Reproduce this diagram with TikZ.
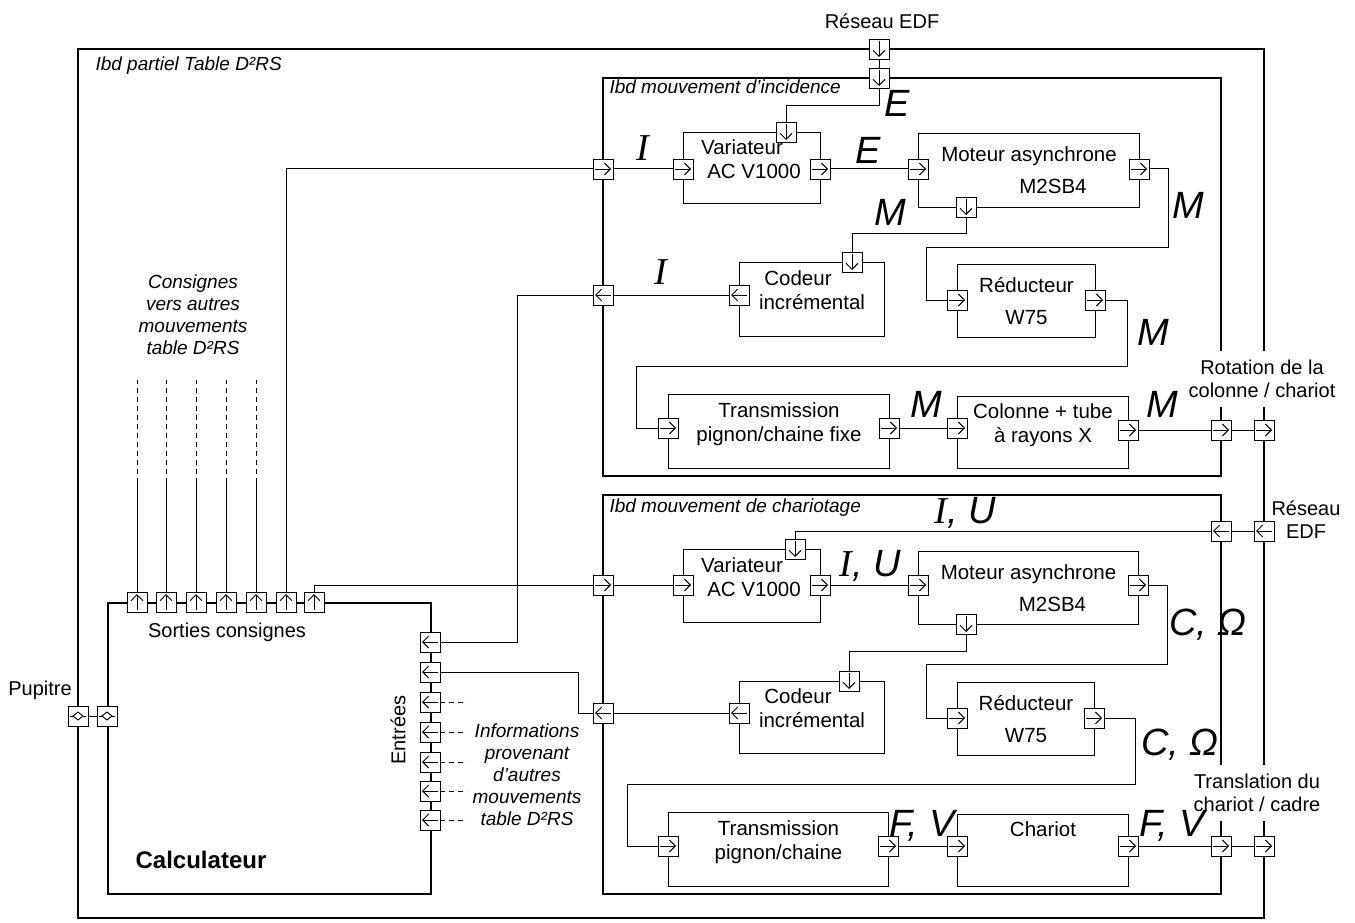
\documentclass[tikz,border=0pt]{standalone}
\usepackage{fontspec}
\setmainfont{Liberation Sans}
\newfontfamily\serifI{Liberation Serif}
\usetikzlibrary{arrows.meta}

\begin{document}
\begin{tikzpicture}[x=1pt, y=-1pt,
        frame/.style={draw=black, line width=1.7pt},
        subframe/.style={draw=black, line width=1.4pt},
        block/.style={rectangle, draw=black, line width=1pt, anchor=north west, align=center, font=\fontsize{20.5}{24}\selectfont},
        high/.style={text depth=18pt},
        port/.style={rectangle, draw=black, fill=white, line width=0.9pt, minimum size=20pt, inner sep=0pt},
        parrow/.style={line width=0.9pt, -{Straight Barb[length=6pt, width=12pt]}},
        pR/.style={port, path picture={\draw[parrow] ([xshift=2pt]path picture bounding box.west) -- ([xshift=-2pt]path picture bounding box.east);}},
        pL/.style={port, path picture={\draw[parrow] ([xshift=-2pt]path picture bounding box.east) -- ([xshift=2pt]path picture bounding box.west);}},
        pU/.style={port, path picture={\draw[parrow] ([yshift=2pt]path picture bounding box.south) -- ([yshift=-2pt]path picture bounding box.north);}},
        pD/.style={port, path picture={\draw[parrow] ([yshift=-2pt]path picture bounding box.north) -- ([yshift=2pt]path picture bounding box.south);}},
        pB/.style={port, path picture={
            \draw[line width=0.9pt] ([xshift=2pt]path picture bounding box.west) -- ([xshift=-2pt]path picture bounding box.east);
            \draw[line width=0.9pt, fill=white] (path picture bounding box.center) ++(-5pt,0pt) -- ++(5pt,4pt) -- ++(5pt,-4pt) -- ++(-5pt,-4pt) -- cycle;
            \fill (path picture bounding box.center) circle (1.2pt);}},
        conn/.style={draw=black, line width=1pt},
        hint/.style={conn, dash pattern=on 5pt off 4pt},
        txt/.style={font=\fontsize{20}{23}\selectfont, align=center},
        cover/.style={txt, fill=white, inner ysep=9pt, inner xsep=2pt},
        frametitle/.style={font=\fontsize{19}{22}\selectfont\itshape, anchor=west},
        note/.style={font=\fontsize{19}{22}\selectfont\itshape, align=center},
        flow/.style={font=\fontsize{38}{40}\selectfont\itshape, inner sep=0pt}
    ]
    \useasboundingbox (0,0) rectangle (1355,923);

    % Frames
    \draw[frame] (78,49) rectangle (1264,918);
    \draw[subframe] (603,78) rectangle (1221,476);
    \draw[subframe] (603,495) rectangle (1221,894);
    \node[frametitle] (tpartiel) at (92,66) {Ibd partiel Table D²RS};
    \node[frametitle] (tincid) at (606,87) {Ibd mouvement d'incidence};
    \node[frametitle] (tchario) at (606,508) {Ibd mouvement de chariotage};

    % Outside texts
    \node[txt] (edftop) at (882,21) {Réseau EDF};
    \node[cover] (rotation) at (1262,379) {Rotation de la\\colonne / chariot};
    \node[txt, fill=white, inner xsep=2pt] (edfright) at (1306,520) {Réseau\\EDF};
    \node[cover] (translation) at (1257,793) {Translation du\\chariot / cadre};
    \node[txt] (pupitre) at (40,690) {Pupitre};

    % Calculateur
    \node[rectangle, draw=black, line width=1.7pt, anchor=north west, minimum width=323pt, minimum height=291pt] (calc) at (107,602) {};
    \node[font=\fontsize{24}{27}\selectfont\bfseries] (calctxt) at (201,860) {Calculateur};
    \node[txt] (sorties) at (227,632) {Sorties consignes};
    \node[txt, rotate=90] (entrees) at (398,730) {Entrées};
    \node[note] (consignes) at (193,315) {Consignes\\vers autres\\mouvements\\table D²RS};
    \node[note] (infos) at (527,775) {Informations\\provenant\\d'autres\\mouvements\\table D²RS};

    % Blocks, mouvement d'incidence
    \node[block, high, minimum width=137pt, minimum height=71pt] (var1) at (683,132) {Variateur\hspace*{20pt}\\\hspace*{4pt}AC V1000};
    \node[block, minimum width=221pt, minimum height=74pt] (mot1) at (918,133) {Moteur asynchrone\\[8pt]\hspace*{48pt}M2SB4};
    \node[block, high, minimum width=145pt, minimum height=74pt] (cod1) at (739,262) {Codeur\hspace*{28pt}\\incrémental};
    \node[block, minimum width=138pt, minimum height=73pt] (red1) at (957,264) {Réducteur\\[8pt]W75};
    \node[block, high, minimum width=221pt, minimum height=74pt] (tra1) at (668,394) {Transmission\\pignon/chaine fixe};
    \node[block, high, minimum width=171pt, minimum height=72pt] (col) at (957,396) {Colonne + tube\\à rayons X};

    % Blocks, mouvement de chariotage
    \node[block, high, minimum width=137pt, minimum height=73pt] (var2) at (683,549) {Variateur\hspace*{20pt}\\\hspace*{4pt}AC V1000};
    \node[block, minimum width=220pt, minimum height=73pt] (mot2) at (918,551) {Moteur asynchrone\\[8pt]\hspace*{48pt}M2SB4};
    \node[block, high, minimum width=145pt, minimum height=72pt] (cod2) at (739,681) {Codeur\hspace*{28pt}\\incrémental};
    \node[block, minimum width=137pt, minimum height=73pt] (red2) at (957,682) {Réducteur\\[8pt]W75};
    \node[block, high, minimum width=220pt, minimum height=74pt] (tra2) at (668,812) {Transmission\\pignon/chaine};
    \node[block, high, minimum width=171pt, minimum height=72pt] (cha) at (957,814) {Chariot\\\mbox{}};

    % Ports
    \node[pD] (edf0) at (879,49) {};
    \node[pD] (edf1) at (879,78) {};
    \node[pD] (v1t) at (786,132) {};
    \node[pR] (fi1) at (603,169) {};
    \node[pR] (v1i) at (683,169) {};
    \node[pR] (v1o) at (820,169) {};
    \node[pR] (m1i) at (918,169) {};
    \node[pR] (m1o) at (1139,169) {};
    \node[pD] (m1b) at (966,207) {};
    \node[pD] (c1t) at (852,262) {};
    \node[pL] (c1o) at (739,295) {};
    \node[pL] (fo1) at (603,295) {};
    \node[pR] (r1i) at (957,300) {};
    \node[pR] (r1o) at (1095,300) {};
    \node[pR] (t1i) at (668,428) {};
    \node[pR] (t1o) at (889,428) {};
    \node[pR] (coli) at (957,428) {};
    \node[pR] (colo) at (1128,430) {};
    \node[pR] (fr1) at (1221,430) {};
    \node[pR] (or1) at (1264,430) {};

    \node[pL] (edf2) at (1264,531) {};
    \node[pL] (edf3) at (1221,531) {};
    \node[pD] (v2t) at (795,549) {};
    \node[pR] (fi2) at (603,585) {};
    \node[pR] (v2i) at (683,585) {};
    \node[pR] (v2o) at (820,585) {};
    \node[pR] (m2i) at (918,585) {};
    \node[pR] (m2o) at (1138,585) {};
    \node[pD] (m2b) at (966,624) {};
    \node[pD] (c2t) at (849,681) {};
    \node[pL] (c2o) at (739,713) {};
    \node[pL] (fo2) at (603,713) {};
    \node[pR] (r2i) at (957,718) {};
    \node[pR] (r2o) at (1094,718) {};
    \node[pR] (t2i) at (668,846) {};
    \node[pR] (t2o) at (888,846) {};
    \node[pR] (chi) at (957,846) {};
    \node[pR] (cho) at (1128,846) {};
    \node[pR] (fr2) at (1221,846) {};
    \node[pR] (or2) at (1264,846) {};

    \node[pB] (pu1) at (78,716) {};
    \node[pB] (pu2) at (107,716) {};
    \foreach \i/\x in {1/137,2/166,3/196,4/226,5/256,6/286,7/314}
        \node[pU] (s\i) at (\x,602) {};
    \foreach \i/\y in {1/642,2/672,3/702,4/732,5/762,6/791,7/820}
        \node[pL] (e\i) at (430,\y) {};

    % Connections, incidence
    \draw[conn] (edf0.south) -- (edf1.north);
    \draw[conn] (edf1.south) -- ++(0,17) -| (v1t.north);
    \draw[conn] (s6.north) |- (fi1.west);
    \draw[conn] (fi1.east) -- (v1i.west);
    \draw[conn] (v1o.east) -- (m1i.west);
    \draw[conn] (m1o.east) -| ++(19,78) -| ([xshift=-20pt]r1i.west) -- (r1i.west);
    \draw[conn] (m1b.south) -- ++(0,16) -| (c1t.north);
    \draw[conn] (c1o.west) -- (fo1.east);
    \draw[conn] (fo1.west) -| ([xshift=77pt]e1.east) -- (e1.east);
    \draw[conn] (r1o.east) -| ++(22,66) -| ([xshift=-21pt]t1i.west) -- (t1i.west);
    \draw[conn] (t1o.east) -- (coli.west);
    \draw[conn] (colo.east) -- (fr1.west);
    \draw[conn] (fr1.east) -- (or1.west);

    % Connections, chariotage
    \draw[conn] (edf2.west) -- (edf3.east);
    \draw[conn] (edf3.west) -| (v2t.north);
    \draw[conn] (s7.north) |- (fi2.west);
    \draw[conn] (fi2.east) -- (v2i.west);
    \draw[conn] (v2o.east) -- (m2i.west);
    \draw[conn] (m2o.east) -| ++(19,79) -| ([xshift=-20pt]r2i.west) -- (r2i.west);
    \draw[conn] (m2b.south) -- ++(0,17) -| (c2t.north);
    \draw[conn] (c2o.west) -- (fo2.east);
    \draw[conn] (fo2.west) -| ([xshift=138pt]e2.east) -- (e2.east);
    \draw[conn] (r2o.east) -| ++(31,66) -| ([xshift=-30pt]t2i.west) -- (t2i.west);
    \draw[conn] (t2o.east) -- (chi.west);
    \draw[conn] (cho.east) -- (fr2.west);
    \draw[conn] (fr2.east) -- (or2.west);

    % Calculateur
    \draw[conn] (pu1.east) -- (pu2.west);
    \foreach \i in {1,...,5} {
        \draw[conn] (s\i.north) -- ++(0,-109) coordinate (sm\i);
        \draw[hint] (sm\i) -- ++(0,-103) coordinate (sd\i);
    }
    \foreach \i in {3,...,7}
        \draw[hint] (e\i.east) -- ++(27,0) coordinate (ed\i);

    % Flow labels
    \node[flow] (fE0) at (897,103) {E};
    \node[flow] (fI1) at (643,148) {\serifI I};
    \node[flow] (fE1) at (868,150) {E};
    \node[flow] (fM0) at (890,212) {M};
    \node[flow] (fM1) at (1188,205) {M};
    \node[flow] (fI2) at (661,272) {\serifI I};
    \node[flow] (fM2) at (1153,332) {M};
    \node[flow] (fM3) at (926,404) {M};
    \node[flow] (fM4) at (1162,404) {M};
    \node[flow] (fIU0) at (965,513) {{\serifI I}, U};
    \node[flow] (fIU1) at (870,566) {{\serifI I}, U};
    \node[flow] (fC1) at (1208,625) {C, Ω};
    \node[flow] (fC2) at (1180,745) {C, Ω};
    \node[flow] (fF1) at (922,826) {F, V};
    \node[flow] (fF2) at (1172,826) {F, V};

\end{tikzpicture}
\end{document}
